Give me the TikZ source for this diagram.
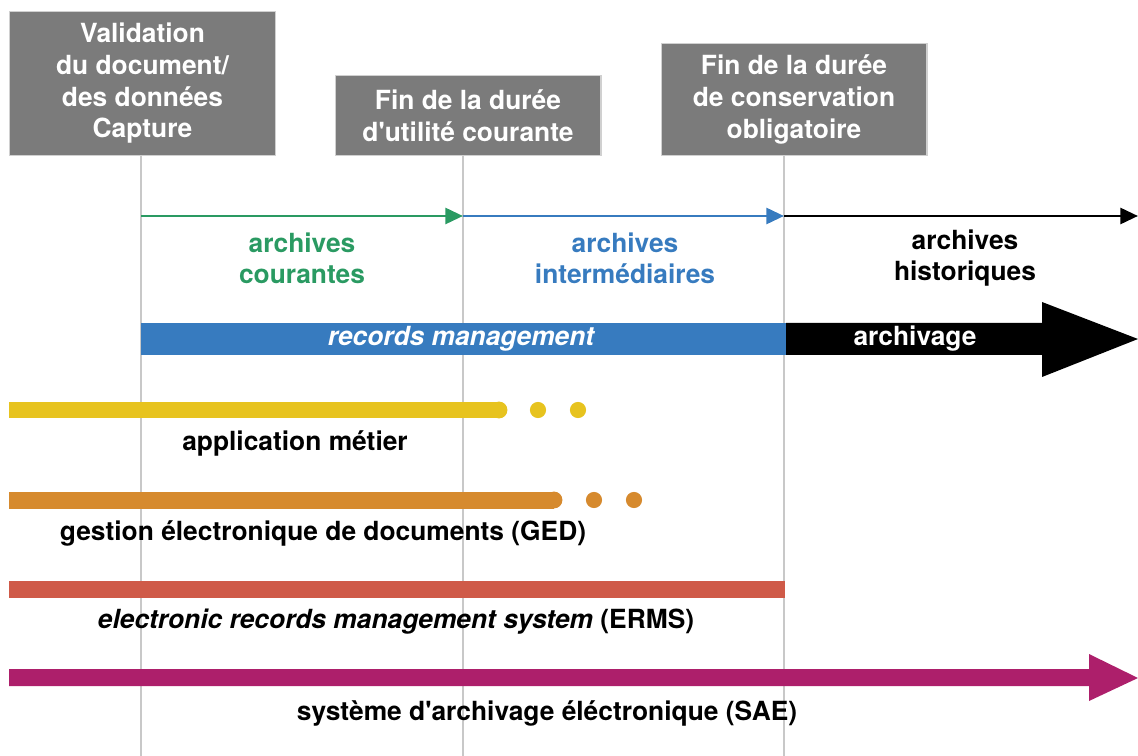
\documentclass[tikz,border=0pt]{standalone}
\usepackage{fontspec}
\setmainfont{TeX Gyre Heros}
\usetikzlibrary{arrows.meta}

\definecolor{boxgray}{HTML}{7B7B7B}
\definecolor{boxedge}{HTML}{D0D0D0}
\definecolor{guidegray}{HTML}{C8C8C8}
\definecolor{curgreen}{HTML}{2A9A62}
\definecolor{intblue}{HTML}{377BBF}
\definecolor{appyellow}{HTML}{E7C31F}
\definecolor{gedorange}{HTML}{D68A2E}
\definecolor{ermsred}{HTML}{CF5A48}
\definecolor{saemagenta}{HTML}{AD1F6B}

\begin{document}
\begin{tikzpicture}[x=0.02cm,y=-0.02cm,
	box/.style={fill=boxgray, draw=boxedge, line width=0.6pt, text=white,
		font=\fontsize{15}{18}\selectfont\bfseries, align=center,
		inner sep=0pt, minimum width=5.32cm, anchor=south},
	guide/.style={draw=guidegray, line width=0.7pt},
	phase/.style={line width=1.7pt, -{Triangle[length=10pt,width=9pt]}},
	lbl/.style={font=\fontsize{15}{17.6}\selectfont\bfseries, align=center},
	tool/.style={line width=0.34cm}]

	\useasboundingbox (0,0) rectangle (1138,756);

	% Milestone boxes.
	\node[box, minimum height=2.88cm] (valid) at (142.5,156)
		{Validation\\du document/\\des données\\Capture};
	\node[box, minimum height=1.6cm] (fin_util) at (468,156)
		{Fin de la durée\\d\textquotesingle utilité courante};
	\node[box, minimum height=2.24cm] (fin_cons) at (794,156)
		{Fin de la durée\\de conservation\\obligatoire};

	% Guide lines.
	\coordinate (valid_end)    at (141,756);
	\coordinate (fin_util_end) at (463,756);
	\coordinate (fin_cons_end) at (784,756);
	\draw[guide] (valid.south -| valid_end)       -- (valid_end);
	\draw[guide] (fin_util.south -| fin_util_end) -- (fin_util_end);
	\draw[guide] (fin_cons.south -| fin_cons_end) -- (fin_cons_end);

	% Phase arrows.
	\coordinate (t_start) at (141,216);
	\coordinate  (t_util) at (463,216);
	\coordinate  (t_cons) at (784,216);
	\coordinate   (t_end) at (1138,216);
	\draw[phase, curgreen] (t_start) -- (t_util);
	\draw[phase, intblue]   (t_util) -- (t_cons);
	\draw[phase, black]     (t_cons) -- (t_end);

	\node[lbl, text=curgreen] (courantes) at (302,258) {archives\\courantes};
	\node[lbl, text=intblue]  (intermed)  at (625,258) {archives\\intermédiaires};
	\node[lbl]                (histo)     at (965,258) {archives\\historiques};

	% Records management and archivage.
	\fill[intblue] (141,323) rectangle (786,355);
	\fill[black] (786,323) -- (1042,323) -- (1042,302) -- (1138,339)
		-- (1042,377) -- (1042,355) -- (786,355) -- cycle;
	\node[lbl, text=white] (rm)   at (461,339) {\itshape records management};
	\node[lbl, text=white] (arch) at (915,339) {archivage};

	% Tools.
	\draw[tool, appyellow] (9,410) -- (499,410);
	\fill[appyellow] (499,410) circle (4.8pt);
	\fill[appyellow] (538,410) circle (4.6pt);
	\fill[appyellow] (578,410) circle (4.6pt);
	\node[lbl] (app) at (295,443) {application métier};

	\draw[tool, gedorange] (9,500) -- (554,500);
	\fill[gedorange] (554,500) circle (4.8pt);
	\fill[gedorange] (594,500) circle (4.6pt);
	\fill[gedorange] (634,500) circle (4.6pt);
	\node[lbl] (ged) at (323,533) {gestion électronique de documents (GED)};

	\draw[tool, ermsred] (9,589) -- (785,589);
	\node[lbl] (erms) at (396,622)
		{{\itshape electronic records management system} (ERMS)};

	\fill[saemagenta] (9,669) -- (1089,669) -- (1089,654) -- (1138,678)
		-- (1089,701) -- (1089,686) -- (9,686) -- cycle;
	\node[lbl] (sae) at (547,713)
		{système d\textquotesingle archivage éléctronique (SAE)};

\end{tikzpicture}
\end{document}
